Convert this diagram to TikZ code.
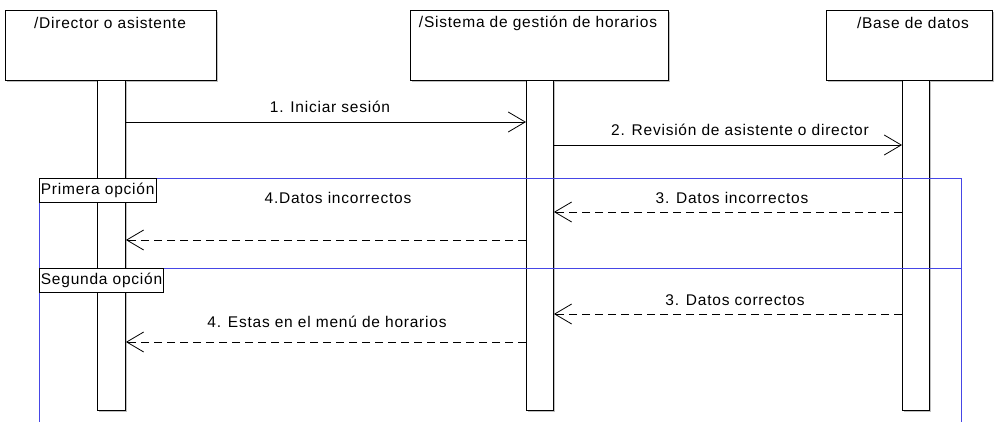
\documentclass[tikz,border=0pt]{standalone}
\usepackage{fontspec}
\setmainfont{Liberation Sans}[LetterSpace=5]
\usetikzlibrary{arrows.meta,shadows}
\definecolor{framebl}{RGB}{70,70,230}
\definecolor{shad}{RGB}{150,150,150}
\begin{document}
\begin{tikzpicture}[x=1pt,y=-1pt,
  every node/.style={font=\fontsize{15.5}{18}\selectfont, inner sep=0pt},
  hdr/.style={draw=black, line width=0.9pt, fill=white, rectangle, anchor=north west,
     drop shadow={shadow xshift=1.5pt, shadow yshift=-1.5pt, fill=shad, opacity=0.6}},
  bar/.style={draw=black, line width=0.9pt, fill=white, rectangle, anchor=north west,
     drop shadow={shadow xshift=1.5pt, shadow yshift=-1.5pt, fill=shad, opacity=0.6}},
  msg/.style={draw=black, line width=0.8pt, -{Straight Barb[length=17pt,width=20pt,line width=0.8pt]}},
  ret/.style={msg, dash pattern=on 8pt off 5pt},
  fr/.style={draw=framebl, line width=0.9pt},
  tag/.style={draw=black, line width=0.8pt, fill=white, anchor=north west, inner xsep=1.5pt, minimum height=24pt},
  lbl/.style={anchor=center}
]
\useasboundingbox (0,0) rectangle (994,422);
\fill[white] (0,0) rectangle (994,422);

% headers
\node[hdr, minimum width=211pt, minimum height=70pt] (h1) at (5,10) {};
\node[lbl] (t1) at (110,23) {/Director o asistente};
\node[hdr, minimum width=258pt, minimum height=70pt] (h2) at (410,10) {};
\node[lbl] (t2) at (538,23) {/Sistema de gestión de horarios};
\node[hdr, minimum width=166pt, minimum height=70pt] (h3) at (826,10) {};
\node[lbl] (t3) at (913,23) {/Base de datos};

% activation bars
\node[bar, minimum width=28pt, minimum height=330pt] (b1) at (97,80) {};
\node[bar, minimum width=27pt, minimum height=330pt] (b2) at (526,80) {};
\node[bar, minimum width=27pt, minimum height=330pt] (b3) at (902,80) {};

% y levels
\coordinate (y1) at (0,122);
\coordinate (y2) at (0,145);
\coordinate (y3) at (0,212);
\coordinate (y4) at (0,240);
\coordinate (y5) at (0,314);
\coordinate (y6) at (0,342);

% messages
\draw[msg] (b1.east |- y1) -- (b2.west |- y1);
\node[lbl] (m1) at (330,107) {1. Iniciar sesión};
\draw[msg] (b2.east |- y2) -- (b3.west |- y2);
\node[lbl] (m2) at (740,130) {2. Revisión de asistente o director};

% frames
\coordinate (f1) at (39,178);
\coordinate (f2) at (961,268);
\coordinate (f3) at (39,268);
\coordinate (f4) at (961,178);
\coordinate (f5) at (39,422);
\coordinate (f6) at (961,422);
\draw[fr] (f1) rectangle (f2);
\draw[fr] (f5) -- (f3) -- (f2) -- (f6);
\node[tag] (o1) at (f1) {Primera opción};
\node[tag] (o2) at (f3) {Segunda opción};

\draw[ret] (b3.west |- y3) -- (b2.east |- y3);
\node[lbl] (m3) at (732,198) {3. Datos incorrectos};
\draw[ret] (b2.west |- y4) -- (b1.east |- y4);
\node[lbl] (m4) at (338,198) {4.Datos incorrectos};

\draw[ret] (b3.west |- y5) -- (b2.east |- y5);
\node[lbl] (m5) at (735,300) {3. Datos correctos};
\draw[ret] (b2.west |- y6) -- (b1.east |- y6);
\node[lbl] (m6) at (327,322) {4. Estas en el menú de horarios};
\end{tikzpicture}
\end{document}
